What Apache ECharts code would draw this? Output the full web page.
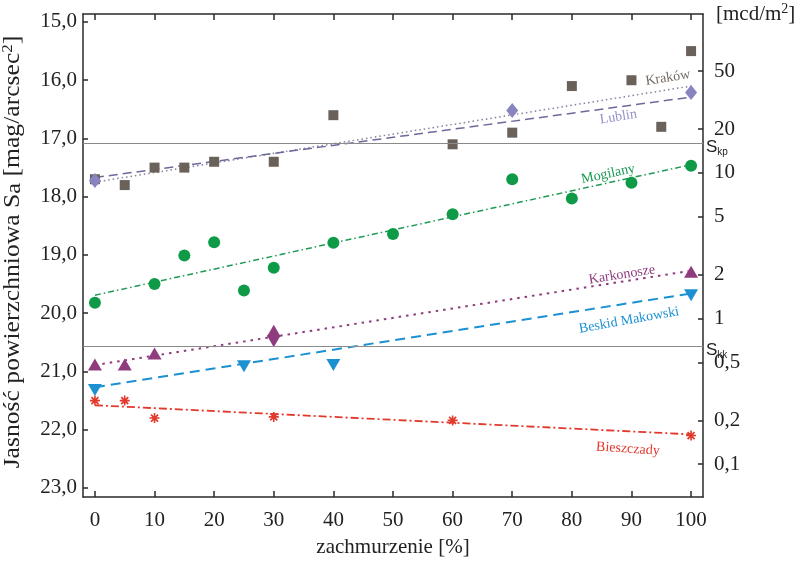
<!DOCTYPE html>
<html>
<head>
<meta charset="utf-8">
<script src="https://cdn.jsdelivr.net/npm/echarts@6/dist/echarts.min.js"></script>
<style>html,body{margin:0;padding:0;background:#fff}#c{width:800px;height:561px}</style>
</head>
<body>
<div id="c"></div>
<script>
// ---- data ----
const xTicks = [0,10,20,30,40,50,60,70,80,90,100];
const leftTicks = [15,16,17,18,19,20,21,22,23];
const rightTickValues = [0.1,0.2,0.5,1,2,5,10,20,50];
const rightTickLabels = ['0,1','0,2','0,5','1','2','5','10','20','50'];
const magZeroPoint = 20.09; // S = magZeroPoint - 2.5*log10(L [mcd/m2])

const krakowX = [0,5,10,15,20,30,40,60,70,80,90,95,100];
const krakowY = [17.7,17.8,17.5,17.5,17.4,17.4,16.6,17.1,16.9,16.1,16.0,16.8,15.5];
const lublinX = [0,70,100];
const lublinY = [17.72,16.52,16.21];
const mogilanyX = [0,10,15,20,25,30,40,50,60,70,80,90,100];
const mogilanyY = [19.82,19.5,19.01,18.78,19.61,19.22,18.79,18.64,18.30,17.70,18.03,17.76,17.47];
const karkonoszeX = [0,5,10,30,100];
const karkonoszeY = [20.88,20.88,20.69,20.30,19.29];
const karkonoszeDownX = [30];
const karkonoszeDownY = [20.48];
const beskidX = [0,25,40,100];
const beskidY = [21.32,20.91,20.89,19.69];
const bieszczadyX = [0,5,10,30,60,100];
const bieszczadyY = [21.50,21.50,21.80,21.78,21.84,22.10];

// trend lines: values at x = 0 and x = 100
const trendX = [0,100];
const krakowTrend = [17.75,16.10];
const lublinTrend = [17.67,16.29];
const mogilanyTrend = [19.69,17.45];
const karkonoszeTrend = [20.89,19.27];
const beskidTrend = [21.27,19.66];
const bieszczadyTrend = [21.58,22.08];

// reference levels
const skp = 17.083;
const skk = 20.562;

// ---- styling / layout ----
const FONT = 'Liberation Serif';
const zip = (xs, ys) => xs.map((x, i) => [x, ys[i]]);
const rightTickPos = rightTickValues.map(L => magZeroPoint - 2.5 * Math.log10(L));
const asterisk = 'path://M-0.8,-5L0.8,-5L0.8,5L-0.8,5Z M-5,-0.8L5,-0.8L5,0.8L-5,0.8Z M-4.1,-2.9L-2.9,-4.1L4.1,2.9L2.9,4.1Z M2.9,-4.1L4.1,-2.9L-2.9,4.1L-4.1,2.9Z';

function trend(name, ys, color, type, width, label) {
  return {
    type: 'line', name: name + ' trend', data: zip(trendX, ys), symbol: 'none', silent: true,
    lineStyle: { color: color, width: width, type: type }, z: 2,
    markPoint: label ? {
      symbol: 'circle', symbolSize: 1, itemStyle: { color: 'rgba(0,0,0,0)' }, silent: true,
      label: { show: true, position: 'inside', formatter: name, color: label.color, fontSize: 14, fontFamily: FONT, rotate: label.rotate },
      data: [{ coord: label.coord }]
    } : undefined
  };
}
function pts(name, xs, ys, symbol, size, color, rot) {
  return { type: 'scatter', name: name, data: zip(xs, ys), symbol: symbol, symbolSize: size, symbolRotate: rot || 0,
    itemStyle: { color: color, opacity: 1 }, z: 3 };
}

const chart = echarts.init(document.getElementById('c'), null, { renderer: 'canvas' });
const axisLineStyle = { color: '#2a2a2a', width: 1.5 };
chart.setOption({
  animation: false,
  backgroundColor: '#fff',
  grid: { left: 83, right: 97, top: 14, bottom: 64, outerBoundsMode: 'none' },
  xAxis: [{
    type: 'value', min: -2, max: 102, position: 'bottom',
    axisLine: { show: true, onZero: false, lineStyle: axisLineStyle },
    axisTick: { show: true, inside: true, length: 6, customValues: xTicks, lineStyle: axisLineStyle },
    axisLabel: { customValues: xTicks, fontSize: 21, fontFamily: FONT, color: '#222', margin: 13 },
    splitLine: { show: false },
    name: 'zachmurzenie [%]', nameLocation: 'middle', nameGap: 40,
    nameTextStyle: { fontSize: 21, fontFamily: FONT, color: '#222' }
  }, {
    type: 'value', min: -2, max: 102, position: 'top',
    axisLine: { show: true, onZero: false, lineStyle: axisLineStyle },
    axisTick: { show: true, inside: true, length: 6, customValues: xTicks, lineStyle: axisLineStyle },
    axisLabel: { show: false }, splitLine: { show: false }
  }],
  yAxis: [{
    type: 'value', inverse: true, min: 14.863, max: 23.155, position: 'left',
    axisLine: { show: true, onZero: false, lineStyle: axisLineStyle },
    axisTick: { show: true, inside: true, length: 5, customValues: leftTicks, lineStyle: axisLineStyle },
    axisLabel: { customValues: leftTicks, fontSize: 21, fontFamily: FONT, color: '#222', margin: 6,
      formatter: v => v.toFixed(1).replace('.', ',') },
    splitLine: { show: false }
  }, {
    type: 'value', inverse: true, min: 14.863, max: 23.155, position: 'right',
    axisLine: { show: true, onZero: false, lineStyle: axisLineStyle },
    axisTick: { show: true, inside: true, length: 5, customValues: rightTickPos, lineStyle: axisLineStyle },
    axisLabel: { customValues: rightTickPos, fontSize: 21, fontFamily: FONT, color: '#222', margin: 11,
      formatter: v => { let best = 0; rightTickPos.forEach((p, i) => { if (Math.abs(p - v) < Math.abs(rightTickPos[best] - v)) best = i; }); return rightTickLabels[best]; } },
    splitLine: { show: false }
  }],
  graphic: [{
    type: 'text', left: 716, top: 2,
    style: { text: '{t|[mcd/m}{sup|2}{t|]}', rich: {
      t: { fontSize: 21, fontFamily: FONT, fill: '#222' },
      sup: { fontSize: 14, fontFamily: FONT, fill: '#222', padding: [0, 0, 10, 0] } } }
  }, {
    type: 'text', x: 13, y: 252, rotation: Math.PI / 2, scaleX: 1.22, scaleY: 1.05,
    style: { text: '{t|Jasność powierzchniowa S}{sub|a}{t| [mag/arcsec}{sup|2}{t|]}',
      align: 'center', verticalAlign: 'middle',
      rich: { t: { fontSize: 21, fontFamily: FONT, fill: '#222' },
              sub: { fontSize: 20, fontFamily: FONT, fill: '#222', padding: [3, 0, 0, 0] },
              sup: { fontSize: 14, fontFamily: FONT, fill: '#222', padding: [0, 0, 10, 0] } } }
  }],
  series: [
    { type: 'scatter', data: [], silent: true,
      markLine: { symbol: 'none', silent: true, animation: false,
        lineStyle: { color: '#8a8a8a', width: 1, type: 'solid' },
        label: { show: true, position: 'end', distance: 3,
          rich: { s: { fontSize: 17, fontFamily: 'Liberation Sans', color: '#222', padding: [8, 0, 0, 0] },
                  sub: { fontSize: 10, fontFamily: 'Liberation Sans', color: '#222', padding: [18, 0, 0, 0] } } },
        data: [ { yAxis: skp, label: { formatter: '{s|S}{sub|kp}' } },
                { yAxis: skk, label: { formatter: '{s|S}{sub|kk}' } } ] } },
    trend('Kraków', krakowTrend, '#877f9b', [1.5, 3], 1.5, { coord: [96.1, 15.96], rotate: 9, color: '#756b65' }),
    trend('Lublin', lublinTrend, '#6d699b', [9, 5], 1.5, { coord: [87.8, 16.63], rotate: 9, color: '#9490c9' }),
    trend('Mogilany', mogilanyTrend, '#1f9a55', [6, 3, 1.5, 3], 1.5, { coord: [86.1, 17.61], rotate: 12, color: '#1a9a50' }),
    trend('Karkonosze', karkonoszeTrend, '#8e3c7e', [2.5, 5], 2, { coord: [88.4, 19.34], rotate: 9, color: '#8e3c7e' }),
    trend('Beskid Makowski', beskidTrend, '#1b91d2', [10, 6], 2, { coord: [89.6, 20.12], rotate: 10, color: '#1b91d2' }),
    trend('Bieszczady', bieszczadyTrend, '#e2392d', [8, 3, 2, 3], 1.8, { coord: [89.4, 22.33], rotate: -4, color: '#e2392d' }),
    pts('Kraków', krakowX, krakowY, 'rect', 10, '#6a615b'),
    pts('Lublin', lublinX, lublinY, 'diamond', [12, 15], '#8884c0'),
    pts('Mogilany', mogilanyX, mogilanyY, 'circle', 12, '#0f9a48'),
    pts('Karkonosze', karkonoszeX, karkonoszeY, 'triangle', [14, 12], '#8e3c7e'),
    pts('Karkonosze ▼', karkonoszeDownX, karkonoszeDownY, 'triangle', [14, 12], '#8e3c7e', 180),
    pts('Beskid Makowski', beskidX, beskidY, 'triangle', [14, 12], '#1b91d2', 180),
    pts('Bieszczady', bieszczadyX, bieszczadyY, asterisk, 10, '#e2392d')
  ]
});
</script>
</body>
</html>
